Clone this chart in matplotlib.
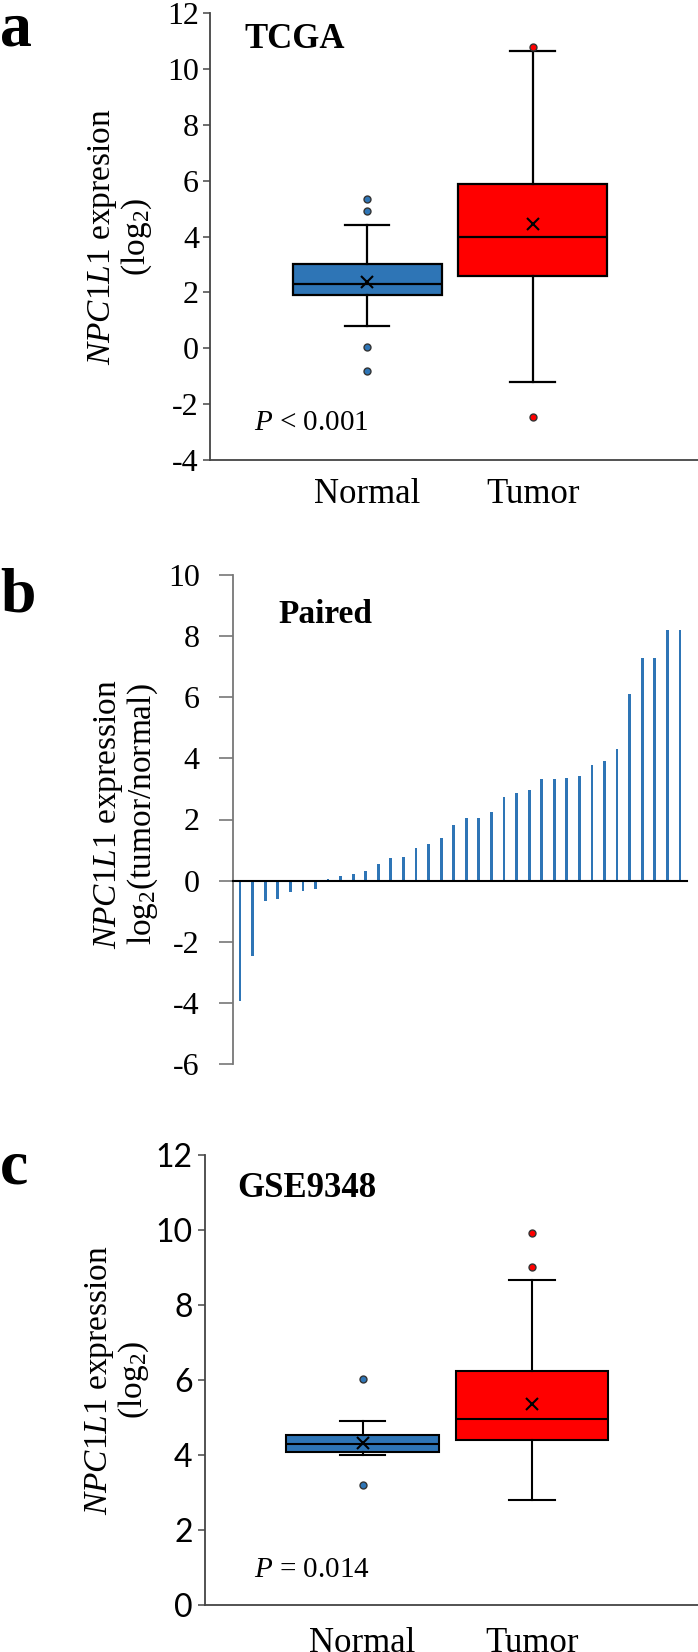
import matplotlib
matplotlib.use("Agg")
import matplotlib.pyplot as plt

plt.rcParams["font.family"] = ["Liberation Serif", "DejaVu Serif"]
plt.rcParams["mathtext.fontset"] = "custom"
plt.rcParams["mathtext.rm"] = "Liberation Serif"
plt.rcParams["mathtext.it"] = "Liberation Serif:italic"
plt.rcParams["mathtext.bf"] = "Liberation Serif:bold"
plt.rcParams["axes.unicode_minus"] = False

groups = ["Normal", "Tumor"]
box_colors = ["#2E75B6", "#FF0000"]

# TCGA box stats (log2)
tcga_q1 = [1.9, 2.6]
tcga_med = [2.3, 3.97]
tcga_q3 = [3.0, 5.87]
tcga_lo = [0.81, -1.2]
tcga_hi = [4.4, 10.65]
tcga_mean = [2.37, 4.45]
tcga_out = [[5.35, 4.93, 0.05, -0.8], [10.8, -2.45]]

# paired log2(tumor/normal), sorted
paired = [-3.93, -2.48, -0.66, -0.6, -0.38, -0.33, -0.27, 0.05, 0.14, 0.23,
          0.32, 0.56, 0.73, 0.76, 1.06, 1.21, 1.39, 1.81, 2.04, 2.04,
          2.26, 2.75, 2.86, 2.98, 3.34, 3.34, 3.37, 3.41, 3.79, 3.91,
          4.32, 6.12, 7.28, 7.28, 8.19, 8.19]

# GSE9348 box stats (log2)
gse_q1 = [4.09, 4.4]
gse_med = [4.3, 4.97]
gse_q3 = [4.54, 6.24]
gse_lo = [4.0, 2.8]
gse_hi = [4.92, 8.67]
gse_mean = [4.32, 5.35]
gse_out = [[6.02, 3.2], [9.02, 9.92]]

W, H = 698, 1652
fig = plt.figure(figsize=(W / 100, H / 100), dpi=100)


def px_axes(left, top, right, bottom):
    return fig.add_axes([left / W, 1 - bottom / H, (right - left) / W, (bottom - top) / H])


def boxes(ax, q1, med, q3, lo, hi, mean, out, lw):
    stats = []
    for i in range(2):
        stats.append(dict(q1=q1[i], med=med[i], q3=q3[i], whislo=lo[i], whishi=hi[i],
                          mean=mean[i], fliers=out[i], label=groups[i]))
    bp = ax.bxp(stats, positions=[1, 2], widths=0.9, patch_artist=True, showmeans=True,
                capwidths=0.27,
                boxprops=dict(edgecolor="black", linewidth=lw),
                medianprops=dict(color="black", linewidth=lw),
                whiskerprops=dict(color="black", linewidth=lw),
                capprops=dict(color="black", linewidth=lw),
                meanprops=dict(marker="x", markeredgecolor="black", markersize=9, markeredgewidth=1.5),
                flierprops=dict(marker="o", markersize=5, markeredgecolor="#333333"))
    for patch, c in zip(bp["boxes"], box_colors):
        patch.set_facecolor(c)
    for fl, c in zip(bp["fliers"], box_colors):
        fl.set_markerfacecolor(c)
    return bp


def ylab(ax, text, x, y=0.5, size=24):
    ax.set_ylabel(text, fontsize=size, linespacing=1.0)
    ax.yaxis.set_label_coords(x, y)


# ---- a: TCGA
ax1 = px_axes(210, 13, 698, 460)
boxes(ax1, tcga_q1, tcga_med, tcga_q3, tcga_lo, tcga_hi, tcga_mean, tcga_out, 1.6)
ax1.set_xlim(0.05, 3.0)
ax1.set_ylim(-4, 12)
ax1.set_yticks(range(-4, 13, 2))
ax1.set_xticks([1, 2], groups)
ax1.tick_params(axis="x", length=0, pad=13, labelsize=25)
ax1.tick_params(axis="y", length=5, width=1.2, color="#555555", pad=3, labelsize=23)
for s in ["top", "right"]:
    ax1.spines[s].set_visible(False)
for s in ["left", "bottom"]:
    ax1.spines[s].set_color("#444444")
    ax1.spines[s].set_linewidth(1.3)
ylab(ax1, "$\\mathit{NPC1L1}$ expresion\n(log$_2$)", -0.115)
ax1.text(0.07, 0.94, "TCGA", transform=ax1.transAxes, fontsize=25, fontweight="bold", va="center")
ax1.text(0.09, 0.083, "$\\mathit{P}$ < 0.001", transform=ax1.transAxes, fontsize=21, va="center")
fig.text(0 / W, 1 - 2 / H, "a", fontsize=46, fontweight="bold", va="top", ha="left")

# ---- b: paired
ax2 = px_axes(233, 575, 687, 1064)
ax2.bar(range(len(paired)), paired, width=0.22, color="#2E75B6")
ax2.set_xlim(-0.56, len(paired) - 0.44)
ax2.set_ylim(-6, 10)
ax2.set_yticks(range(-6, 11, 2))
ax2.set_xticks([])
ax2.tick_params(axis="y", length=10, width=1.2, color="#777777", pad=14, labelsize=23)
for s in ["top", "right"]:
    ax2.spines[s].set_visible(False)
ax2.spines["left"].set_color("#777777")
ax2.spines["left"].set_linewidth(1.3)
ax2.spines["bottom"].set_position(("data", 0))
ax2.spines["bottom"].set_color("black")
ax2.spines["bottom"].set_linewidth(1.5)
ylab(ax2, "$\\mathit{NPC1L1}$ expression\nlog$_2$(tumor/normal)", -0.161, 0.51)
ax2.text(0.1, 0.92, "Paired", transform=ax2.transAxes, fontsize=24, fontweight="bold", va="center")
fig.text(0 / W, 1 - 597 / H, "b", fontsize=46, fontweight="bold", va="center", ha="left")

# ---- c: GSE9348
ax3 = px_axes(205, 1155, 698, 1605)
boxes(ax3, gse_q1, gse_med, gse_q3, gse_lo, gse_hi, gse_mean, gse_out, 1.5)
ax3.set_xlim(0.07, 2.98)
ax3.set_ylim(0, 12)
ax3.set_yticks(range(0, 13, 2))
ax3.set_yticklabels([str(v) for v in range(0, 13, 2)], family=["Lato", "DejaVu Sans"])
ax3.set_xticks([1, 2], groups)
ax3.tick_params(axis="x", length=0, pad=16, labelsize=25)
ax3.tick_params(axis="y", length=5, width=1.2, color="#555555", pad=4, labelsize=23)
for s in ["top", "right"]:
    ax3.spines[s].set_visible(False)
for s in ["left", "bottom"]:
    ax3.spines[s].set_color("#444444")
    ax3.spines[s].set_linewidth(1.3)
ylab(ax3, "$\\mathit{NPC1L1}$ expression\n(log$_2$)", -0.11)
ax3.text(0.065, 0.925, "GSE9348", transform=ax3.transAxes, fontsize=25, fontweight="bold", va="center")
ax3.text(0.1, 0.078, "$\\mathit{P}$ = 0.014", transform=ax3.transAxes, fontsize=21, va="center")
fig.text(0 / W, 1 - 1168 / H, "c", fontsize=46, fontweight="bold", va="center", ha="left")

fig.savefig("out.png", dpi=100)
